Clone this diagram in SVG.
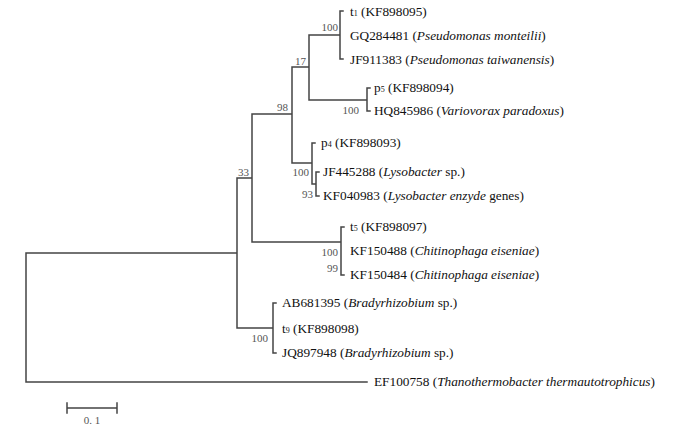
<svg xmlns="http://www.w3.org/2000/svg" width="700" height="431" viewBox="0 0 700 431">
<style>
.br{fill:none;stroke:#444;stroke-width:1.5;stroke-linecap:square}
.lb{font-size:13.3px;fill:#111}
.bs{font-size:11px;fill:#555;text-anchor:end}
.sm{font-size:8px}
.it{font-style:italic}
</style>
<rect width="700" height="431" fill="#fff"/>
<g id="connectors">
<path class="br" d="M343,11 H340 V59 H343 M340,35 H309 V100 H367 M370,88 H367 V111 H370 M309,67 H292 V163 H312 M315,143 H312 V184 H316 M319,172 H316 V196 H319 M292,114 H252 V242 H341 M344,227 H341 V275 H344 M252,178 H237 V328 H273 M276,303 H273 V353 H276 M237,253 H26 V382 H367"/>
</g>
<g font-family="Liberation Serif, serif">
<g id="n-t1"><text class="lb" x="350" y="16">t<tspan class="sm">1</tspan> (KF898095)</text></g>
<g id="n-GQ284481"><text class="lb" x="350" y="40">GQ284481 (<tspan class="it">Pseudomonas monteilii</tspan>)</text></g>
<g id="n-JF911383"><text class="lb" x="350" y="64">JF911383 (<tspan class="it">Pseudomonas taiwanensis</tspan>)</text></g>
<g id="n-p5"><text class="lb" x="374" y="92">p<tspan class="sm">5</tspan> (KF898094)</text></g>
<g id="n-HQ845986"><text class="lb" x="374" y="115">HQ845986 (<tspan class="it">Variovorax paradoxus</tspan>)</text></g>
<g id="n-p4"><text class="lb" x="321" y="147">p<tspan class="sm">4</tspan> (KF898093)</text></g>
<g id="n-JF445288"><text class="lb" x="323" y="176">JF445288 (<tspan class="it">Lysobacter</tspan> sp.)</text></g>
<g id="n-KF040983"><text class="lb" x="323" y="200">KF040983 (<tspan class="it">Lysobacter enzyde</tspan> genes)</text></g>
<g id="n-t5"><text class="lb" x="350" y="231">t<tspan class="sm">5</tspan> (KF898097)</text></g>
<g id="n-KF150488"><text class="lb" x="350" y="255">KF150488 (<tspan class="it">Chitinophaga eiseniae</tspan>)</text></g>
<g id="n-KF150484"><text class="lb" x="350" y="279">KF150484 (<tspan class="it">Chitinophaga eiseniae</tspan>)</text></g>
<g id="n-AB681395"><text class="lb" x="282" y="307">AB681395 (<tspan class="it">Bradyrhizobium</tspan> sp.)</text></g>
<g id="n-t9"><text class="lb" x="282" y="333">t<tspan class="sm">9</tspan> (KF898098)</text></g>
<g id="n-JQ897948"><text class="lb" x="282" y="357">JQ897948 (<tspan class="it">Bradyrhizobium</tspan> sp.)</text></g>
<g id="n-EF100758"><text class="lb" x="374" y="386">EF100758 (<tspan class="it">Thanothermobacter thermautotrophicus</tspan>)</text></g>
<g id="bootstrap">
<text class="bs" x="338" y="31">100</text>
<text class="bs" x="306" y="65">17</text>
<text class="bs" x="288" y="111">98</text>
<text class="bs" x="359" y="114">100</text>
<text class="bs" x="249" y="176">33</text>
<text class="bs" x="309" y="176">100</text>
<text class="bs" x="313" y="198">93</text>
<text class="bs" x="338" y="256">100</text>
<text class="bs" x="338" y="272">99</text>
<text class="bs" x="268" y="342">100</text>
</g>
<text class="bs" x="92" y="424" text-anchor="middle" style="text-anchor:middle">0. 1</text>
</g>
<g id="scale">
<path class="br" d="M67,408 H117 M67,403 V413 M117,403 V413"/>
</g>
</svg>
